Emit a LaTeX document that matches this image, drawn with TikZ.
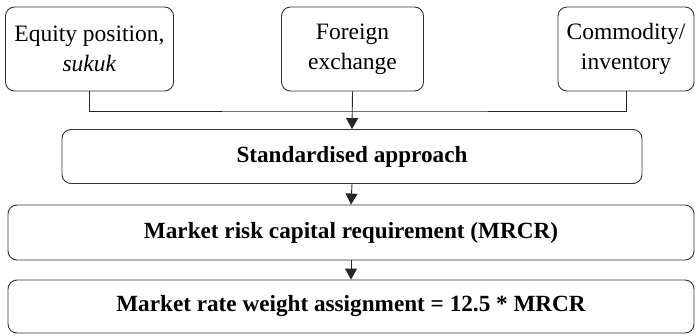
\documentclass[tikz,border=0pt]{standalone}
\usepackage{fontspec}
\setmainfont{Liberation Serif}
\usetikzlibrary{arrows.meta}
\begin{document}
\begin{tikzpicture}[x=1pt,y=-1pt,
  box/.style={draw=black!80, line width=0.9pt, rounded corners=9pt, inner sep=0pt, align=center},
  src/.style={box, font=\fontsize{23.5}{30}\selectfont},
  stage/.style={box, font=\fontsize{23.2}{26}\selectfont\bfseries},
  link/.style={draw=black!85, line width=0.9pt},
  flow/.style={link, -{Triangle[length=11pt,width=12pt]}}]
\useasboundingbox (0,0) rectangle (696,335);
% source boxes
\node[src, minimum width=168pt, minimum height=84pt] (eq) at (89.5,49) {Equity position,\\ \textit{sukuk}};
\node[src, minimum width=142pt, minimum height=84pt] (fx) at (352.5,49) {Foreign\\ exchange};
\node[src, minimum width=136pt, minimum height=84pt] (cm) at (626,49) {Commodity/\\ inventory};
% stage boxes
\node[stage, minimum width=580pt, minimum height=54pt] (sa) at (352,156.5) {Standardised approach};
\node[stage, minimum width=686pt, minimum height=55pt] (mr) at (351,232.5) {Market risk capital requirement (MRCR)};
\node[stage, minimum width=686pt, minimum height=53pt] (rw) at (351,306.5) {Market rate weight assignment = 12.5 * MRCR};
% joining the sources
\coordinate (j) at (352,111);
\draw[link] (eq.south) |- (j) -| (cm.south);
\draw[flow] (fx.south) -- (sa.north);
\draw[flow] (sa.south) -- (mr.north);
\draw[flow] (mr.south) -- (rw.north);
\end{tikzpicture}
\end{document}
